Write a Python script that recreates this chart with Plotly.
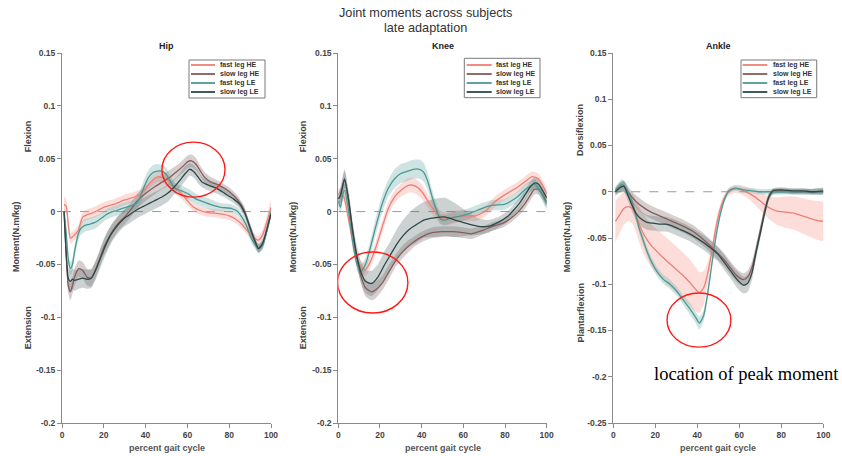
import plotly.graph_objects as go

W, H = 842, 456

# ---------------- data (percent gait cycle, mean moment N.m/kg, band half-width) -------------
series_names = ["fast leg HE", "slow leg HE", "fast leg LE", "slow leg LE"]
line_colors = ["#EF7F74", "#875B5B", "#4B9993", "#2E4646"]
band_colors = ["rgba(246,150,140,0.32)", "rgba(120,95,95,0.30)",
               "rgba(105,170,165,0.32)", "rgba(85,105,105,0.30)"]

# ---- Hip
hip_fhe_x = [1, 2, 3, 4, 5, 6, 7, 8, 9, 10, 12, 15, 20, 25, 30, 35, 38, 40, 43, 46, 50, 53, 56, 58, 61, 63, 66, 70, 75, 80, 83, 86, 89, 92, 94, 96, 98, 100]
hip_fhe_y = [0.007, 0.005, -0.012, -0.025, -0.024, -0.022, -0.020, -0.017, -0.010, -0.005, -0.003, -0.001, 0.004, 0.007, 0.011, 0.014, 0.017, 0.022, 0.029, 0.033, 0.031, 0.024, 0.019, 0.015, 0.008, 0.004, 0.001, -0.001, -0.002, -0.004, -0.007, -0.012, -0.019, -0.025, -0.027, -0.022, -0.010, 0.004]
hip_fhe_sd = [0.007, 0.007, 0.006, 0.005, 0.005, 0.005, 0.005, 0.005, 0.005, 0.005, 0.005, 0.005, 0.005, 0.005, 0.005, 0.005, 0.005, 0.005, 0.005, 0.005, 0.005, 0.005, 0.005, 0.005, 0.004, 0.004, 0.004, 0.004, 0.004, 0.004, 0.004, 0.004, 0.004, 0.004, 0.004, 0.005, 0.006, 0.007]

hip_she_x = [1, 2, 3, 4, 5, 6, 8, 10, 12, 14, 16, 18, 20, 22, 24, 27, 30, 33, 36, 40, 44, 48, 52, 55, 58, 60, 62, 64, 66, 68, 71, 75, 80, 84, 87, 89, 91, 94, 96, 98, 100]
hip_she_y = [0.000, -0.040, -0.070, -0.076, -0.070, -0.062, -0.054, -0.056, -0.062, -0.063, -0.055, -0.045, -0.034, -0.026, -0.019, -0.011, -0.005, 0.002, 0.010, 0.017, 0.023, 0.028, 0.033, 0.038, 0.043, 0.047, 0.048, 0.045, 0.039, 0.033, 0.028, 0.025, 0.019, 0.011, 0.002, -0.010, -0.022, -0.035, -0.031, -0.018, -0.002]
hip_she_sd = [0.004, 0.008, 0.008, 0.008, 0.008, 0.008, 0.008, 0.008, 0.008, 0.008, 0.008, 0.008, 0.008, 0.008, 0.008, 0.007, 0.007, 0.007, 0.007, 0.007, 0.007, 0.007, 0.007, 0.006, 0.006, 0.006, 0.006, 0.006, 0.005, 0.005, 0.005, 0.004, 0.004, 0.004, 0.004, 0.004, 0.004, 0.004, 0.004, 0.004, 0.003]

hip_fle_x = [1, 2, 3, 4, 5, 6, 7, 8, 9, 11, 13, 16, 19, 21, 23, 26, 29, 32, 35, 37, 39, 41, 43, 45, 48, 50, 52, 54, 58, 61, 64, 68, 72, 76, 81, 84, 86, 88, 91, 94, 96, 98, 100]
hip_fle_y = [0.000, -0.020, -0.045, -0.054, -0.050, -0.038, -0.028, -0.020, -0.016, -0.013, -0.012, -0.010, -0.006, -0.003, -0.001, 0.001, 0.003, 0.005, 0.007, 0.012, 0.022, 0.031, 0.036, 0.038, 0.038, 0.035, 0.028, 0.022, 0.019, 0.016, 0.012, 0.009, 0.006, 0.004, 0.003, 0.000, -0.005, -0.012, -0.027, -0.035, -0.032, -0.018, 0.000]
hip_fle_sd = [0.003, 0.005, 0.006, 0.006, 0.006, 0.006, 0.006, 0.006, 0.006, 0.006, 0.006, 0.006, 0.005, 0.005, 0.005, 0.005, 0.005, 0.005, 0.005, 0.006, 0.007, 0.007, 0.007, 0.007, 0.006, 0.006, 0.006, 0.005, 0.005, 0.005, 0.005, 0.005, 0.005, 0.004, 0.004, 0.004, 0.004, 0.004, 0.004, 0.004, 0.004, 0.004, 0.003]

hip_sle_x = [1, 2, 3, 4, 5, 6, 8, 10, 12, 14, 16, 18, 20, 22, 24, 27, 30, 33, 36, 40, 44, 48, 51, 54, 57, 59, 61, 63, 65, 67, 70, 74, 78, 82, 85, 88, 90, 92, 94, 96, 98, 100]
hip_sle_y = [0.000, -0.040, -0.063, -0.066, -0.064, -0.065, -0.064, -0.063, -0.064, -0.063, -0.056, -0.046, -0.036, -0.027, -0.020, -0.012, -0.006, -0.002, 0.002, 0.006, 0.010, 0.014, 0.018, 0.024, 0.031, 0.036, 0.040, 0.038, 0.033, 0.028, 0.025, 0.022, 0.017, 0.012, 0.007, -0.004, -0.015, -0.026, -0.035, -0.030, -0.017, -0.002]
hip_sle_sd = [0.004, 0.010, 0.010, 0.010, 0.010, 0.010, 0.009, 0.009, 0.009, 0.009, 0.009, 0.009, 0.009, 0.009, 0.008, 0.008, 0.008, 0.008, 0.008, 0.008, 0.008, 0.008, 0.008, 0.007, 0.007, 0.007, 0.006, 0.006, 0.006, 0.005, 0.005, 0.005, 0.004, 0.004, 0.004, 0.004, 0.004, 0.004, 0.004, 0.004, 0.004, 0.003]

# ---- Knee
knee_fhe_x = [0, 2, 3, 5, 7, 9, 11, 13, 15, 18, 21, 24, 27, 30, 34, 37, 40, 43, 46, 49, 52, 56, 61, 66, 71, 75, 80, 86, 90, 93, 96, 98, 100]
knee_fhe_y = [0.017, 0.016, 0.012, -0.008, -0.028, -0.045, -0.053, -0.055, -0.049, -0.034, -0.015, 0.003, 0.014, 0.020, 0.025, 0.024, 0.019, 0.010, 0.001, -0.005, -0.007, -0.005, -0.004, -0.004, 0.001, 0.009, 0.016, 0.023, 0.029, 0.033, 0.031, 0.025, 0.017]
knee_fhe_sd = [0.005, 0.005, 0.005, 0.006, 0.006, 0.006, 0.006, 0.006, 0.006, 0.006, 0.006, 0.006, 0.006, 0.006, 0.007, 0.007, 0.007, 0.006, 0.006, 0.006, 0.006, 0.006, 0.005, 0.005, 0.005, 0.005, 0.005, 0.005, 0.005, 0.005, 0.005, 0.005, 0.005]

knee_she_x = [0, 1, 3, 5, 7, 9, 11, 13, 16, 18, 21, 24, 27, 30, 33, 36, 40, 45, 50, 55, 60, 64, 69, 74, 79, 83, 86, 89, 92, 94, 96, 98, 100]
knee_she_y = [0.012, 0.015, 0.030, 0.010, -0.020, -0.045, -0.062, -0.072, -0.076, -0.074, -0.068, -0.058, -0.048, -0.040, -0.034, -0.029, -0.024, -0.020, -0.019, -0.019, -0.020, -0.021, -0.018, -0.014, -0.011, -0.006, -0.001, 0.006, 0.015, 0.021, 0.021, 0.016, 0.009]
knee_she_sd = [0.005, 0.006, 0.008, 0.007, 0.007, 0.007, 0.007, 0.008, 0.008, 0.008, 0.007, 0.007, 0.006, 0.006, 0.006, 0.005, 0.005, 0.005, 0.005, 0.005, 0.005, 0.005, 0.004, 0.004, 0.004, 0.004, 0.004, 0.005, 0.005, 0.005, 0.005, 0.005, 0.005]

knee_fle_x = [0, 1, 2, 3, 5, 7, 9, 11, 13, 15, 18, 21, 24, 27, 30, 33, 36, 39, 41, 43, 45, 47, 49, 51, 54, 59, 64, 69, 74, 80, 86, 89, 92, 94, 96, 98, 100]
knee_fle_y = [0.010, 0.004, 0.015, 0.020, 0.000, -0.030, -0.050, -0.056, -0.050, -0.037, -0.014, 0.007, 0.022, 0.031, 0.036, 0.038, 0.040, 0.040, 0.037, 0.028, 0.014, 0.002, -0.007, -0.008, -0.006, -0.004, -0.001, 0.003, 0.006, 0.007, 0.014, 0.020, 0.024, 0.026, 0.022, 0.015, 0.007]
knee_fle_sd = [0.006, 0.006, 0.006, 0.006, 0.006, 0.006, 0.006, 0.006, 0.006, 0.007, 0.008, 0.008, 0.008, 0.009, 0.009, 0.009, 0.009, 0.009, 0.009, 0.008, 0.007, 0.006, 0.005, 0.005, 0.005, 0.005, 0.005, 0.005, 0.005, 0.005, 0.005, 0.005, 0.005, 0.005, 0.005, 0.005, 0.005]

knee_sle_x = [0, 1, 3, 5, 7, 9, 11, 13, 16, 19, 22, 25, 28, 31, 34, 37, 41, 46, 51, 56, 61, 67, 72, 77, 81, 84, 87, 90, 92, 94, 96, 98, 100]
knee_sle_y = [0.012, 0.015, 0.031, 0.010, -0.020, -0.043, -0.058, -0.066, -0.068, -0.062, -0.051, -0.041, -0.031, -0.023, -0.017, -0.013, -0.008, -0.006, -0.005, -0.008, -0.011, -0.014, -0.014, -0.010, -0.005, 0.001, 0.008, 0.017, 0.023, 0.027, 0.026, 0.020, 0.013]
knee_sle_sd = [0.006, 0.008, 0.009, 0.009, 0.009, 0.010, 0.010, 0.011, 0.012, 0.012, 0.013, 0.013, 0.014, 0.015, 0.016, 0.017, 0.017, 0.018, 0.018, 0.016, 0.012, 0.008, 0.006, 0.005, 0.005, 0.005, 0.005, 0.005, 0.005, 0.005, 0.005, 0.005, 0.005]

# ---- Ankle
ankle_fhe_x = [1, 3, 5, 7, 9, 11, 13, 15, 18, 21, 25, 29, 33, 36, 39, 41, 43, 45, 47, 49, 51, 53, 55, 58, 61, 64, 67, 70, 74, 78, 82, 86, 90, 94, 97, 100]
ankle_fhe_y = [-0.032, -0.025, -0.018, -0.016, -0.018, -0.027, -0.039, -0.048, -0.058, -0.065, -0.074, -0.082, -0.090, -0.097, -0.105, -0.109, -0.104, -0.088, -0.064, -0.037, -0.018, -0.006, 0.000, 0.003, 0.002, -0.001, -0.005, -0.010, -0.017, -0.021, -0.022, -0.023, -0.026, -0.029, -0.031, -0.032]
ankle_fhe_sd = [0.022, 0.020, 0.018, 0.016, 0.016, 0.018, 0.020, 0.022, 0.023, 0.024, 0.025, 0.025, 0.025, 0.025, 0.024, 0.022, 0.018, 0.012, 0.008, 0.006, 0.005, 0.004, 0.004, 0.004, 0.005, 0.006, 0.008, 0.010, 0.012, 0.015, 0.017, 0.018, 0.019, 0.020, 0.021, 0.021]

ankle_she_x = [1, 3, 5, 7, 9, 12, 15, 18, 22, 26, 30, 34, 38, 42, 46, 50, 53, 56, 59, 62, 64, 66, 68, 70, 72, 74, 76, 80, 85, 90, 95, 100]
ankle_she_y = [0.000, 0.005, 0.006, 0.000, -0.006, -0.013, -0.018, -0.022, -0.026, -0.030, -0.034, -0.038, -0.043, -0.050, -0.058, -0.067, -0.074, -0.083, -0.091, -0.095, -0.092, -0.082, -0.064, -0.042, -0.021, -0.006, 0.000, 0.001, 0.000, 0.000, 0.000, 0.000]
ankle_she_sd = [0.004, 0.005, 0.006, 0.006, 0.006, 0.007, 0.007, 0.007, 0.007, 0.007, 0.007, 0.007, 0.007, 0.007, 0.007, 0.007, 0.007, 0.007, 0.007, 0.007, 0.007, 0.007, 0.007, 0.006, 0.005, 0.004, 0.003, 0.003, 0.003, 0.003, 0.003, 0.003]

ankle_fle_x = [1, 3, 4, 6, 8, 10, 12, 14, 16, 18, 21, 24, 27, 30, 33, 36, 39, 41, 43, 45, 47, 49, 51, 53, 55, 58, 62, 66, 70, 75, 80, 85, 90, 95, 100]
ankle_fle_y = [0.002, 0.006, 0.008, 0.004, -0.005, -0.019, -0.037, -0.051, -0.064, -0.075, -0.087, -0.095, -0.100, -0.107, -0.116, -0.125, -0.135, -0.142, -0.134, -0.109, -0.077, -0.047, -0.024, -0.008, 0.001, 0.004, 0.002, 0.001, 0.000, 0.000, 0.000, 0.000, 0.000, 0.000, 0.000]
ankle_fle_sd = [0.004, 0.005, 0.006, 0.005, 0.005, 0.005, 0.005, 0.005, 0.005, 0.005, 0.005, 0.005, 0.005, 0.005, 0.005, 0.006, 0.006, 0.007, 0.006, 0.005, 0.004, 0.004, 0.003, 0.003, 0.003, 0.003, 0.003, 0.003, 0.003, 0.003, 0.003, 0.003, 0.003, 0.003, 0.003]

ankle_sle_x = [1, 3, 5, 7, 9, 11, 13, 16, 19, 22, 25, 28, 31, 35, 39, 43, 47, 50, 53, 56, 59, 62, 64, 66, 68, 70, 72, 74, 76, 80, 85, 90, 95, 100]
ankle_sle_y = [0.000, 0.004, 0.006, -0.004, -0.015, -0.024, -0.029, -0.033, -0.034, -0.035, -0.035, -0.037, -0.040, -0.044, -0.049, -0.055, -0.062, -0.068, -0.077, -0.086, -0.095, -0.101, -0.099, -0.088, -0.065, -0.045, -0.024, -0.006, 0.001, 0.002, 0.001, 0.001, 0.000, 0.001]
ankle_sle_sd = [0.004, 0.005, 0.006, 0.006, 0.007, 0.008, 0.008, 0.008, 0.008, 0.008, 0.008, 0.008, 0.008, 0.008, 0.008, 0.008, 0.008, 0.008, 0.008, 0.008, 0.009, 0.009, 0.009, 0.008, 0.007, 0.006, 0.005, 0.004, 0.003, 0.003, 0.003, 0.003, 0.003, 0.003]

joint_titles = ["Hip", "Knee", "Ankle"]
upper_labels = ["Flexion", "Flexion", "Dorsiflexion"]
lower_labels = ["Extension", "Extension", "Plantarflexion"]
x_ticks = [0, 20, 40, 60, 80, 100]
y_ticks_hip_knee = [0.15, 0.1, 0.05, 0, -0.05, -0.1, -0.15, -0.2]
y_ticks_ankle = [0.15, 0.1, 0.05, 0, -0.05, -0.1, -0.15, -0.2, -0.25]
y_ranges = [[-0.2, 0.15], [-0.2, 0.15], [-0.25, 0.15]]
peak_circles = [  # (x0, x1, y0, y1) in data units, hand-drawn highlight
    (47.8, 78.0, 0.0137, 0.0657),
    (-0.3, 33.4, -0.096, -0.0383),
    (25.6, 56.0, -0.168, -0.1095),
]

joints = [
    [(hip_fhe_x, hip_fhe_y, hip_fhe_sd), (hip_she_x, hip_she_y, hip_she_sd),
     (hip_fle_x, hip_fle_y, hip_fle_sd), (hip_sle_x, hip_sle_y, hip_sle_sd)],
    [(knee_fhe_x, knee_fhe_y, knee_fhe_sd), (knee_she_x, knee_she_y, knee_she_sd),
     (knee_fle_x, knee_fle_y, knee_fle_sd), (knee_sle_x, knee_sle_y, knee_sle_sd)],
    [(ankle_fhe_x, ankle_fhe_y, ankle_fhe_sd), (ankle_she_x, ankle_she_y, ankle_she_sd),
     (ankle_fle_x, ankle_fle_y, ankle_fle_sd), (ankle_sle_x, ankle_sle_y, ankle_sle_sd)],
]

# ---------------- layout geometry (pixels) ----------------
def px(x):
    return x / W

def py(y):
    return 1 - y / H

x_domains_px = [(62, 271), (338.3, 546.7), (613.3, 823.3)]
y_domain_px = (53, 423)

FONT = "Liberation Sans, Arial, sans-serif"
fig = go.Figure()

for j, series in enumerate(joints):
    sfx = "" if j == 0 else str(j + 1)
    xa, ya = "x" + sfx, "y" + sfx
    for s, (xs, ys, sd) in enumerate(series):
        assert len(xs) == len(ys) == len(sd), (j, s, len(xs), len(ys), len(sd))
        up = [a + b for a, b in zip(ys, sd)]
        lo = [a - b for a, b in zip(ys, sd)]
        fig.add_trace(go.Scatter(
            x=list(xs) + list(xs)[::-1], y=up + lo[::-1], xaxis=xa, yaxis=ya,
            fill="toself", fillcolor=band_colors[s], mode="lines",
            line=dict(width=0, shape="spline", smoothing=0.6),
            hoverinfo="skip", showlegend=False))
    for s, (xs, ys, sd) in enumerate(series):
        fig.add_trace(go.Scatter(
            x=xs, y=ys, xaxis=xa, yaxis=ya, mode="lines", name=series_names[s],
            line=dict(color=line_colors[s], width=1.3, shape="spline", smoothing=0.6),
            showlegend=False))

layout = dict(
    template="none",
    width=W, height=H, margin=dict(l=0, r=0, t=0, b=0, pad=0, autoexpand=False),
    paper_bgcolor="white", plot_bgcolor="white", showlegend=False,
    font=dict(family=FONT, color="#333"),
)
axis_common = dict(showline=True, linecolor="#8a8a8a", linewidth=1, ticks="outside",
                   ticklen=4, tickcolor="#8a8a8a", showgrid=False, zeroline=False,
                   automargin=False,
                   tickfont=dict(family=FONT, size=8.5, color="#444", weight="bold"))
annotations = []
shapes = []


def label(text, x, y, size, color="#444", family=FONT, angle=0, xanchor="center"):
    annotations.append(dict(text=text, x=px(x), y=py(y), xref="paper", yref="paper",
                            xanchor=xanchor, yanchor="middle", showarrow=False,
                            textangle=angle, font=dict(size=size, color=color, family=family)))


for j in range(3):
    sfx = "" if j == 0 else str(j + 1)
    x0p, x1p = x_domains_px[j]
    yt = y_ticks_ankle if j == 2 else y_ticks_hip_knee
    layout["xaxis" + sfx] = dict(axis_common, domain=[px(x0p), px(x1p)], range=[0, 100],
                                 tickvals=x_ticks, ticktext=[str(v) for v in x_ticks],
                                 anchor="y" + sfx)
    layout["yaxis" + sfx] = dict(axis_common, domain=[py(y_domain_px[1]), py(y_domain_px[0])],
                                 range=y_ranges[j], tickvals=yt,
                                 ticktext=[("%g" % v) for v in yt], anchor="x" + sfx)
    xa, ya = "x" + sfx, "y" + sfx
    # zero reference
    shapes.append(dict(type="line", xref=xa, yref=ya, x0=0, x1=100, y0=0, y1=0,
                       line=dict(color="#9a9a9a", width=1, dash="dash"), layer="below"))
    # highlight circle
    c = peak_circles[j]
    shapes.append(dict(type="circle", xref=xa, yref=ya, x0=c[0], x1=c[1], y0=c[2], y1=c[3],
                       line=dict(color="#ff1a1a", width=1.4)))
    cx = (x0p + x1p) / 2
    label("<b>%s</b>" % joint_titles[j], cx, 46, 9, color="#222")
    label("<b>percent gait cycle</b>", cx, 447.5, 9, color="#555")

# y-axis label texts
ylab_moment_x = [16, 293.3, 567.3]
ylab_side_x = [28.3, 303.3, 580]
upper_y = [136, 136, 130]
lower_y = [328, 328, 312.5]
for j in range(3):
    label("<b>Moment(N.m/kg)</b>", ylab_moment_x[j], 237, 9, angle=-90)
    label("<b>%s</b>" % upper_labels[j], ylab_side_x[j], upper_y[j], 9, angle=-90)
    label("<b>%s</b>" % lower_labels[j], ylab_side_x[j], lower_y[j], 9, angle=-90)

# legends (drawn per panel)
legend_boxes = [(189, 60, 265, 98), (464.3, 58.3, 540, 97.7), (741, 60, 816.7, 97.7)]
legend_line_x = [(191, 215), (466.7, 491.7), (742.7, 767.3)]
legend_text_x = [218, 494, 770.7]
legend_rows = [65, 74, 83, 92]
for j in range(3):
    bx0, by0, bx1, by1 = legend_boxes[j]
    shapes.append(dict(type="rect", xref="paper", yref="paper", x0=px(bx0), x1=px(bx1),
                       y0=py(by1), y1=py(by0), line=dict(color="#7a7a7a", width=1),
                       fillcolor="white"))
    for s in range(4):
        shapes.append(dict(type="line", xref="paper", yref="paper",
                           x0=px(legend_line_x[j][0]), x1=px(legend_line_x[j][1]),
                           y0=py(legend_rows[s]), y1=py(legend_rows[s]),
                           line=dict(color=line_colors[s], width=1.8)))
        label("<b>%s</b>" % series_names[s], legend_text_x[j], legend_rows[s], 7,
              color="#333", xanchor="left")

# main title
label("Joint moments across subjects", 425, 12.7, 12.7, color="#333")
label("late adaptation", 425, 28.3, 12.7, color="#333")
# callout
label("location of peak moment", 746.5, 374, 18.5, color="#000",
      family="Liberation Serif, Times New Roman, serif")

layout["annotations"] = annotations
layout["shapes"] = shapes
fig.update_layout(**layout)
fig.write_html("out.html", config={"displayModeBar": False, "staticPlot": True},
               post_script="document.body.style.margin='0';document.body.style.overflow='hidden';")
